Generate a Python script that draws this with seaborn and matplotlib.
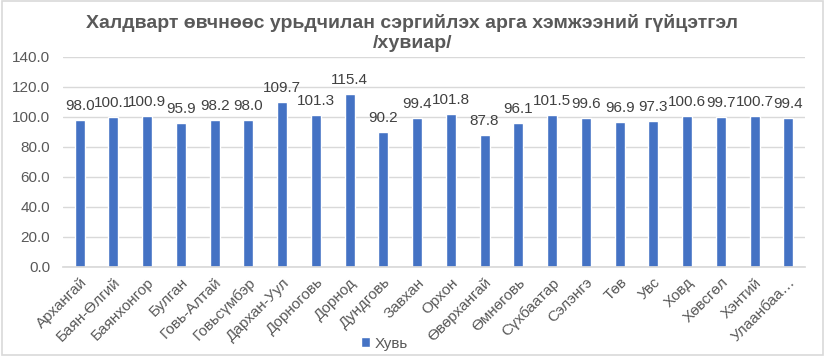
import matplotlib
matplotlib.use("Agg")
import matplotlib.pyplot as plt
import seaborn as sns
import pandas as pd

categories = ["Архангай", "Баян-Өлгий", "Баянхонгор", "Булган", "Говь-Алтай", "Говьсүмбэр",
              "Дархан-Уул", "Дорноговь", "Дорнод", "Дундговь", "Завхан", "Орхон",
              "Өвөрхангай", "Өмнөговь", "Сүхбаатар", "Сэлэнгэ", "Төв", "Увс", "Ховд",
              "Хөвсгөл", "Хэнтий", "Улаанбаа…"]
values = [98.0, 100.1, 100.9, 95.9, 98.2, 98.0, 109.7, 101.3, 115.4, 90.2, 99.4, 101.8,
          87.8, 96.1, 101.5, 99.6, 96.9, 97.3, 100.6, 99.7, 100.7, 99.4]
series_name = "Хувь"
title = "Халдварт өвчнөөс урьдчилан сэргийлэх арга хэмжээний гүйцэтгэл\n/хувиар/"

sns.set_theme(style="white")
plt.rcParams['font.family'] = ['Liberation Sans', 'DejaVu Sans']

df = pd.DataFrame({"cat": categories, "val": values, "s": series_name})

fig = plt.figure(figsize=(8.25, 3.56), dpi=100)
ax = fig.add_axes([0.076, 0.25, 0.900, 0.59])
sns.barplot(data=df, x="cat", y="val", hue="s", palette=["#4472C4"], width=0.3,
            ax=ax, legend=False, saturation=1)

ax.set_ylim(0, 140)
ax.set_yticks(range(0, 141, 20))
ax.set_yticklabels([f"{v:.1f}" for v in range(0, 141, 20)], fontsize=11, color="#595959")
ax.yaxis.grid(True, color="#d9d9d9", linewidth=1)
ax.set_axisbelow(True)
for s in ["top", "right", "left"]:
    ax.spines[s].set_visible(False)
ax.spines["bottom"].set_color("#d9d9d9")
ax.tick_params(axis="y", length=0, pad=9)
ax.tick_params(axis="x", length=0, pad=6)
ax.set_xlabel("")
ax.set_ylabel("")
ax.set_xticks(range(len(categories)))
ax.set_xticklabels(categories, rotation=45, ha="right", rotation_mode="anchor",
                   fontsize=11, color="#595959")

for c in ax.containers:
    ax.bar_label(c, labels=[f"{v:.1f}" for v in values], padding=5, fontsize=11,
                 color="#404040")

fig.suptitle(title, fontsize=14, fontweight="bold", color="#595959", y=0.96,
             linespacing=1.2)

handle = plt.Rectangle((0, 0), 1, 1, facecolor="#4472C4")
leg = fig.legend([handle], [series_name], loc="center", bbox_to_anchor=(0.466, 0.035),
                 frameon=False, fontsize=11, handlelength=0.6, handleheight=0.6,
                 handletextpad=0.3)
for t in leg.get_texts():
    t.set_color("#595959")

fig.patches.append(plt.Rectangle((0.002, 0.003), 0.996, 0.994, transform=fig.transFigure,
                                 fill=False, edgecolor="#d9d9d9", linewidth=1.2))

fig.savefig("out.png", dpi=100)
